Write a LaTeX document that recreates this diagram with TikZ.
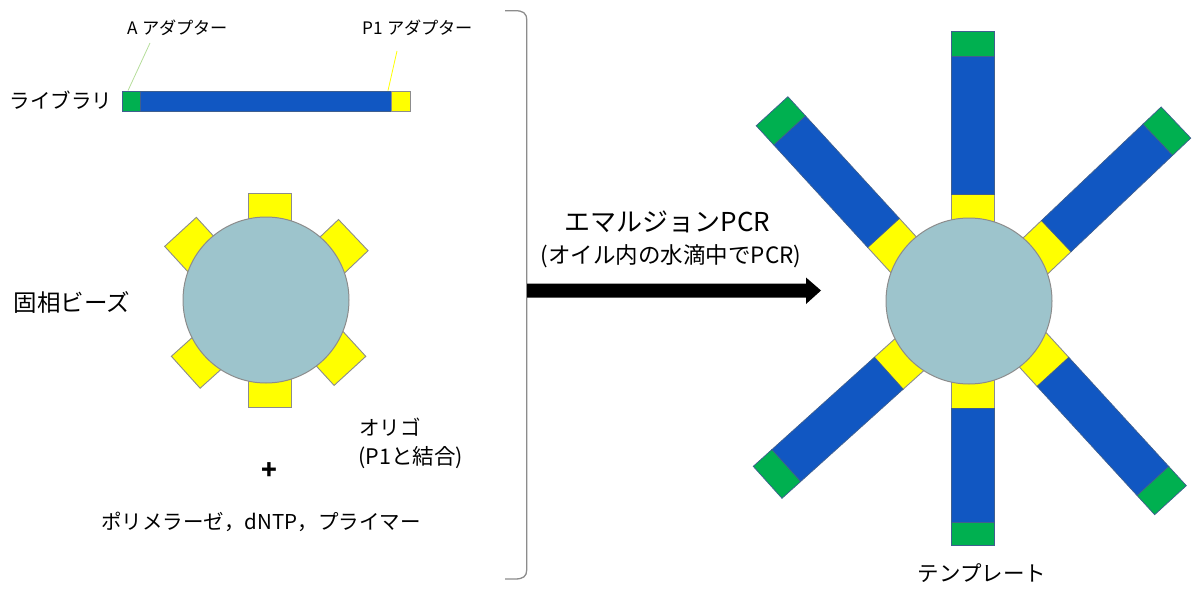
\documentclass[tikz,border=0pt]{standalone}
\usepackage{fontspec}
\setmainfont{Noto Sans CJK JP}
\definecolor{ycol}{HTML}{FFFF00}
\definecolor{bcol}{HTML}{1157C2}
\definecolor{gcol}{HTML}{00B050}
\definecolor{beadcol}{HTML}{9DC4CC}
\definecolor{edgecol}{HTML}{8C8C8C}
\definecolor{bedge}{HTML}{3F5F8F}
\definecolor{gline}{HTML}{B5DD9A}
\tikzset{
  lbl/.style={inner sep=0pt, font=\fontsize{17.2}{19}\selectfont},
  txt/.style={inner sep=0pt, font=\fontsize{20.5}{22}\selectfont},
  ypart/.style={fill=ycol, draw=edgecol, line width=0.9pt},
  bpart/.style={fill=bcol, draw=bedge, line width=0.7pt},
  gpart/.style={fill=gcol, draw=bedge, line width=0.7pt},
  bead/.style={circle, minimum size=166pt, inner sep=0pt, fill=beadcol, draw=edgecol, line width=1pt},
  barpart/.style={rectangle, inner sep=0pt, minimum height=20pt, line width=0.8pt},
}
% #1 centre, #2 angle, #3 lateral offset, #4 from, #5 to, #6 style
\newcommand\armseg[6]{%
  \draw[#6, shift={(#1)}, rotate=#2] (#4,#3-21.5) -- (#5,#3-21.5) -- (#5,#3+21.5) -- (#4,#3+21.5) -- cycle;}
\begin{document}
\begin{tikzpicture}[x=1pt,y=-1pt]
\useasboundingbox (0,0) rectangle (1192,589);
% ---------- library ----------
\node[txt] (lib) at (61,100) {ライブラリ};
\node[barpart, minimum width=18pt, fill=gcol, draw=bedge] (libA) at (131,101) {};
\node[barpart, minimum width=251pt, fill=bcol, draw=bedge] (libB) at (265.5,101) {};
\node[barpart, minimum width=19pt, fill=ycol, draw=edgecol] (libP) at (400.5,101) {};
\node[lbl] (aad) at (178,28) {A アダプター};
\node[lbl] (pad) at (418,28) {P1 アダプター};
\coordinate (aadl) at (150,43);
\coordinate (padl) at (397,51);
\draw[gline, line width=0.8pt] (aadl) -- (libA.north west -| 128,0);
\draw[ycol, line width=0.8pt] (padl) -- (libP.north west -| 388,0);
% ---------- left bead ----------
\coordinate (L) at (266,300);
\armseg{L}{90}{3.5}{50}{107}{ypart}
\armseg{L}{270}{-3.5}{50}{107}{ypart}
\armseg{L}{132.5}{-17}{50}{108}{ypart}
\armseg{L}{43.5}{13}{50}{108}{ypart}
\armseg{L}{222}{0}{50}{108}{ypart}
\armseg{L}{312.5}{-14}{50}{109}{ypart}
\node[bead] (beadL) at (L) {};
\node[txt, font=\fontsize{23.5}{25}\selectfont] (kosou) at (72,302) {固相ビーズ};
\node[txt, anchor=west] (oligo) at (359,427) {オリゴ};
\node[txt, anchor=west, font=\fontsize{21.5}{23}\selectfont] (oligo2) at (358,458) {(P1と結合)};
\node[inner sep=0pt, font=\fontsize{26}{26}\selectfont\bfseries] (plus) at (269.5,471) {+};
\node[txt] (mix) at (261,522) {ポリメラーゼ，dNTP，プライマー};
% ---------- bracket ----------
\coordinate (bt) at (505,10.7);
\coordinate (bb) at (505,579);
\draw[edgecol, line width=1.3pt] (bt) -- (515,10.7) .. controls (523,10.7) and (526.7,13) .. (526.7,20)
  -- (526.7,570) .. controls (526.7,576.5) and (523,579) .. (515,579) -- (bb);
% ---------- arrow ----------
\coordinate (as) at (527,290.5);
\coordinate (ae) at (821,290.5);
\fill[black] (as) ++(0,-7) -- ++(279,0) -- ++(0,-6) -- (ae) -- ++(-15,13.5) -- ++(0,-6.5) -- ++(-279,0) -- cycle;
\node[inner sep=0pt, font=\fontsize{26}{28}\selectfont] (emul) at (667.5,222) {エマルジョンPCR};
\node[inner sep=0pt, font=\fontsize{22.5}{24}\selectfont] (emul2) at (671,256) {(オイル内の水滴中でPCR)};
% ---------- right bead ----------
\coordinate (R) at (969,301);
\armseg{R}{90}{3.5}{50}{107}{ypart}
\armseg{R}{270}{-3.5}{50}{107}{ypart}
\armseg{R}{132.5}{-17}{50}{108}{ypart}
\armseg{R}{43.5}{13}{50}{108}{ypart}
\armseg{R}{222}{0}{50}{108}{ypart}
\armseg{R}{312.5}{-14}{50}{109}{ypart}
\node[bead] (beadR) at (R) {};
\armseg{R}{90}{3.5}{107}{245}{bpart}
\armseg{R}{90}{3.5}{245}{270}{gpart}
\armseg{R}{270}{-3.5}{107}{221}{bpart}
\armseg{R}{270}{-3.5}{221}{244}{gpart}
\armseg{R}{132.5}{-17}{108}{247}{bpart}
\armseg{R}{132.5}{-17}{247}{273}{gpart}
\armseg{R}{43.5}{13}{108}{248}{bpart}
\armseg{R}{43.5}{13}{248}{273}{gpart}
\armseg{R}{222}{0}{108}{246}{bpart}
\armseg{R}{222}{0}{246}{271}{gpart}
\armseg{R}{312.5}{-14}{109}{257}{bpart}
\armseg{R}{312.5}{-14}{257}{283}{gpart}
\node[txt, font=\fontsize{21.5}{23}\selectfont] (tmpl) at (982,573) {テンプレート};
\end{tikzpicture}
\end{document}
